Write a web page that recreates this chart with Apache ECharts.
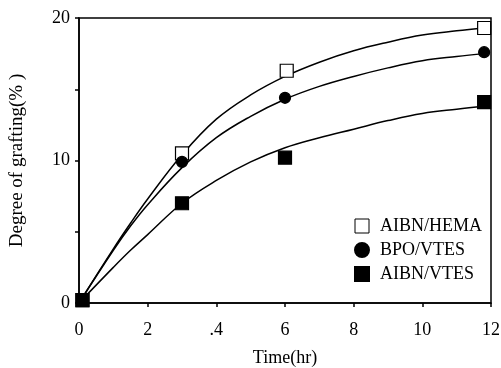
<!DOCTYPE html>
<html>
<head>
<meta charset="utf-8">
<script src="https://cdn.jsdelivr.net/npm/echarts@6/dist/echarts.min.js"></script>
<style>
  html, body { margin: 0; padding: 0; background: #fff; }
  #chart { width: 501px; height: 368px; }
</style>
</head>
<body>
<div id="chart"></div>
<script>
var FONT = '"Liberation Serif", "DejaVu Serif", serif';

// x tick labels as printed (the ".4" is how it appears on the scan)
var xTickLabels = {0: '0', 2: '2', 4: '.4', 6: '6', 8: '8', 10: '10', 12: '12'};
var yTickLabels = {0: '0', 10: '10', 20: '20'};

var seriesNames = ['AIBN/HEMA', 'BPO/VTES', 'AIBN/VTES'];

// measured points [time, degree]
var hemaPts = [[0.1, 0.2], [3, 10.5], [6.05, 16.3], [11.8, 19.3]];
var bpoPts = [[3, 9.9], [6, 14.4], [11.8, 17.6]];
var vtesPts = [[0.1, 0.2], [3, 7.0], [6, 10.2], [11.8, 14.1]];

// fitted curves
var hemaCurve = [[0, 0], [1, 3.8], [1.5, 5.6], [2, 7.3], [3, 10.4], [4, 12.9], [5, 14.6], [6, 15.9],
  [7, 16.9], [8, 17.7], [9, 18.3], [10, 18.8], [11, 19.1], [11.8, 19.3]];
var bpoCurve = [[0, 0], [1, 3.7], [1.5, 5.4], [2, 6.9], [3, 9.5], [4, 11.6], [5, 13.1], [6, 14.3],
  [7, 15.2], [8, 15.9], [9, 16.5], [10, 17.0], [11, 17.3], [11.8, 17.5]];
var vtesCurve = [[0, 0], [1, 2.5], [1.5, 3.7], [2, 4.8], [3, 7.0], [4, 8.6], [5, 9.9], [6, 10.9],
  [7, 11.6], [8, 12.2], [9, 12.8], [10, 13.3], [11, 13.6], [11.8, 13.8]];

var chart = echarts.init(document.getElementById('chart'));

function curve(data) {
  return {
    type: 'line',
    data: data,
    smooth: 0.4,
    showSymbol: false,
    silent: true,
    lineStyle: {color: '#000', width: 1.5},
    z: 2
  };
}

function points(name, data, symbol, fill, size) {
  return {
    name: name,
    type: 'scatter',
    data: data,
    symbol: symbol,
    symbolSize: size,
    itemStyle: {color: fill, opacity: 1, borderColor: '#000', borderWidth: 1.2},
    z: 3
  };
}

var option = {
  animation: false,
  backgroundColor: '#fff',
  grid: {
    left: 79, right: 10, top: 18, bottom: 65,
    outerBoundsMode: 'none',
    show: true, borderColor: '#000', borderWidth: 1.5
  },
  legend: {
    orient: 'vertical',
    left: 349, top: 212,
    itemGap: 6,
    itemWidth: 14, itemHeight: 14,
    textStyle: {fontFamily: FONT, fontSize: 18, color: '#000', padding: [0, 0, 0, 6]},
    data: [
      {name: seriesNames[0], icon: 'rect', itemStyle: {color: '#fff', opacity: 1, borderColor: '#000', borderWidth: 1}},
      {name: seriesNames[1], icon: 'circle', itemStyle: {color: '#000', opacity: 1}},
      {name: seriesNames[2], icon: 'rect', itemStyle: {color: '#000', opacity: 1}}
    ]
  },
  xAxis: {
    type: 'value', min: 0, max: 12, interval: 2,
    name: 'Time(hr)', nameLocation: 'middle', nameGap: 46,
    nameTextStyle: {fontFamily: FONT, fontSize: 18, color: '#000'},
    axisLine: {lineStyle: {color: '#000', width: 1.5}},
    axisTick: {show: true, length: 4, lineStyle: {color: '#000', width: 1.5}},
    axisLabel: {
      margin: 18, fontFamily: FONT, fontSize: 18, color: '#000',
      formatter: function (v) { return xTickLabels[v] || ''; }
    },
    splitLine: {show: false}
  },
  yAxis: {
    type: 'value', min: 0, max: 20, interval: 5,
    name: 'Degree of grafting(% )', nameLocation: 'middle', nameGap: 52, nameRotate: 90,
    nameTextStyle: {fontFamily: FONT, fontSize: 19, color: '#000'},
    axisLine: {show: true, lineStyle: {color: '#000', width: 1.5}},
    axisTick: {show: true, length: 4, lineStyle: {color: '#000', width: 1.5}},
    axisLabel: {
      margin: 9, fontFamily: FONT, fontSize: 18, color: '#000',
      formatter: function (v) { return yTickLabels[v] || ''; }
    },
    splitLine: {show: false}
  },
  series: [
    curve(hemaCurve),
    curve(bpoCurve),
    curve(vtesCurve),
    points(seriesNames[0], hemaPts, 'rect', '#fff', 13),
    points(seriesNames[1], bpoPts, 'circle', '#000', 11),
    points(seriesNames[2], vtesPts, 'rect', '#000', 13)
  ]
};

chart.setOption(option);
</script>
</body>
</html>
